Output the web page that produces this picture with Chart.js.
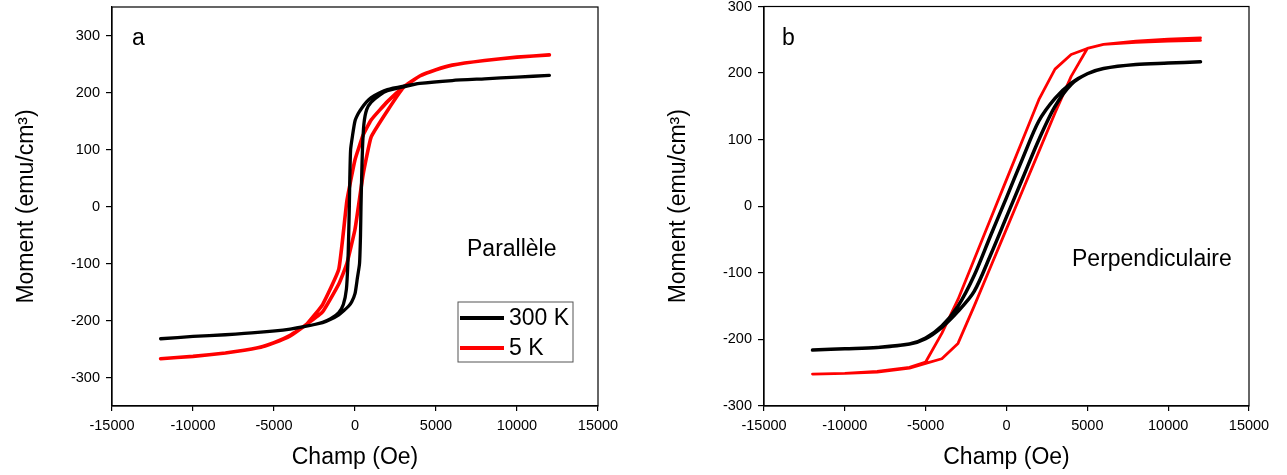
<!DOCTYPE html>
<html>
<head>
<meta charset="utf-8">
<title>Cycles d'hystérésis</title>
<script src="https://cdn.jsdelivr.net/npm/chart.js@4.4.1/dist/chart.umd.min.js"></script>
<style>
  body { margin: 0; background: #fff; }
  #wrap { position: relative; width: 1287px; height: 475px; }
  canvas { position: absolute; top: 0; }
  #chartA { left: 0; }
  #chartB { left: 640px; }
</style>
</head>
<body>
<div id="wrap">
  <canvas id="chartA" width="640" height="475"></canvas>
  <canvas id="chartB" width="647" height="475"></canvas>
</div>
<script>
// loops: +12 kOe down to -12 kOe, then back up to +12 kOe
const fieldA300 = [12000, 10000, 8000, 6000, 4000, 3000, 2000, 1500, 1000, 700, 400, 200, 0, -150, -270, -320, -350, -390, -440, -530, -720, -1000, -1500, -2000, -3000, -4000, -6000, -8000, -10000, -12000,
  -10000, -8000, -6000, -4000, -3000, -2000, -1500, -1000, -700, -400, -200, 0, 150, 280, 340, 370, 410, 460, 550, 720, 1000, 1500, 2000, 3000, 4000, 6000, 8000, 10000, 12000];
const momentA300 = [230, 227, 224, 221, 216, 211, 205, 199, 191, 183, 172, 163, 150, 125, 100, 50, 0, -50, -100, -145, -172, -186, -197, -203, -210, -215, -221, -225, -228, -232,
  -228, -225, -221, -215, -210, -204, -198, -190, -183, -175, -167, -153, -125, -100, -50, 0, 50, 100, 145, 170, 183, 195, 203, 210, 216, 221, 224, 227, 230];

const fieldA5 = [12000, 10000, 8000, 6000, 5000, 4000, 3000, 2000, 1000, 500, 0, -500, -1000, -2000, -3000, -4000, -5000, -6000, -8000, -10000, -12000,
  -10000, -8000, -6000, -5000, -4000, -3000, -2000, -1000, -500, 0, 500, 1000, 2000, 3000, 4000, 5000, 6000, 8000, 10000, 12000];
const momentA5 = [266, 262, 256, 248, 240, 229, 210, 184, 152, 125, 82, 10, -110, -172, -207, -226, -239, -248, -257, -263, -267,
  -263, -257, -248, -239, -227, -207, -185, -136, -100, -40, 56, 122, 168, 209, 229, 240, 248, 256, 262, 266];

const fieldB = [12000, 10000, 8000, 6000, 5000, 4000, 3000, 2000, 1000, 0, -1000, -2000, -3000, -4000, -5000, -6000, -8000, -10000, -12000,
  -10000, -8000, -6000, -5000, -4000, -3000, -2000, -1000, 0, 1000, 2000, 3000, 4000, 5000, 6000, 8000, 10000, 12000];
const momentB300 = [217, 215, 213, 207, 199, 185, 162, 128, 72, 13, -45, -104, -150, -180, -198, -207, -212, -214, -216,
  -214, -212, -207, -199, -182, -158, -128, -74, -16, 42, 100, 150, 183, 199, 207, 213, 215, 217];
const momentB5 = [249, 248, 246, 243, 237, 228, 206, 160, 100, 40, -20, -80, -140, -191, -234, -242, -248, -251, -252,
  -251, -249, -243, -236, -229, -206, -150, -92, -34, 24, 82, 140, 195, 237, 243, 248, 251, 253];

const seriesNames = ['300 K', '5 K'];
const xTicks = [-15000, -10000, -5000, 0, 5000, 10000, 15000];
const yTicksA = [-300, -200, -100, 0, 100, 200, 300];
const yTicksB = [-300, -200, -100, 0, 100, 200, 300];

const FONT = "'Liberation Sans', Arial, sans-serif";

function toPoints(h, m) {
  return h.map((x, i) => ({ x: x, y: m[i] }));
}

// box around the plot, panel letters, notes and the small legend
const framePlugin = {
  id: 'frame',
  afterDatasetsDraw(chart, args, opts) {
    const ctx = chart.ctx;
    const a = chart.chartArea;
    ctx.save();
    ctx.strokeStyle = '#000';
    ctx.lineWidth = 1.2;
    ctx.strokeRect(a.left, a.top, a.right - a.left, a.bottom - a.top);
    ctx.fillStyle = '#000';
    ctx.font = '23px ' + FONT;
    ctx.textBaseline = 'alphabetic';
    (opts.notes || []).forEach(n => ctx.fillText(n.text, a.left + n.dx, a.top + n.dy));
    if (opts.legend) {
      const lg = opts.legend;
      const bx = a.left + lg.dx, by = a.top + lg.dy;
      ctx.strokeStyle = '#555';
      ctx.lineWidth = 1;
      ctx.strokeRect(bx, by, lg.w, lg.h);
      ctx.textBaseline = 'middle';
      chart.data.datasets.forEach((ds, i) => {
        const y = by + 16 + 30 * i;
        ctx.strokeStyle = ds.borderColor;
        ctx.lineWidth = 4;
        ctx.beginPath();
        ctx.moveTo(bx + 2, y);
        ctx.lineTo(bx + 46, y);
        ctx.stroke();
        ctx.fillText(ds.label, bx + 51, y + 1);
      });
    }
    ctx.restore();
  }
};

function makeScales(yMin, yMax, yTicks, yWidth, titlePad) {
  const tickFont = { family: FONT, size: 14.5 };
  const titleFont = { family: FONT, size: 23 };
  return {
    x: {
      type: 'linear',
      min: -15000,
      max: 15000,
      afterBuildTicks: s => { s.ticks = xTicks.map(v => ({ value: v })); },
      afterFit: s => { s.height = 69; s.paddingLeft = 0; s.paddingRight = 0; },
      ticks: { color: '#000', font: tickFont, padding: 6, maxRotation: 0, autoSkip: false, callback: v => String(v) },
      grid: { drawOnChartArea: false, drawTicks: true, tickLength: 5, color: '#000', lineWidth: 1.2 },
      border: { display: true, color: '#000', width: 1.2 },
      title: { display: true, text: 'Champ (Oe)', color: '#000', font: titleFont, padding: { top: 0, bottom: 4 } }
    },
    y: {
      type: 'linear',
      min: yMin,
      max: yMax,
      afterBuildTicks: s => { s.ticks = yTicks.map(v => ({ value: v })); },
      afterFit: s => { s.width = yWidth; s.paddingTop = 0; s.paddingBottom = 0; },
      ticks: { color: '#000', font: tickFont, padding: 6, autoSkip: false, callback: v => String(v) },
      grid: { drawOnChartArea: false, drawTicks: true, tickLength: 6, color: '#000', lineWidth: 1.2 },
      border: { display: true, color: '#000', width: 1.2 },
      title: { display: true, text: 'Moment (emu/cm³)', color: '#000', font: titleFont, padding: { top: titlePad, bottom: 0 } }
    }
  };
}

const baseOptions = {
  responsive: false,
  animation: false,
  events: [],
  elements: { point: { radius: 0 } }
};

new Chart(document.getElementById('chartA'), {
  type: 'line',
  data: {
    datasets: [
      { label: seriesNames[0], data: toPoints(fieldA300, momentA300), borderColor: '#000000', borderWidth: 3.3, tension: 0.2, fill: false, borderJoinStyle: 'round', borderCapStyle: 'round' },
      { label: seriesNames[1], data: toPoints(fieldA5, momentA5), borderColor: '#ff0000', borderWidth: 3.6, tension: 0.12, fill: false, borderJoinStyle: 'round', borderCapStyle: 'round' }
    ]
  },
  options: Object.assign({}, baseOptions, {
    layout: { padding: { top: 7, right: 42, left: 0, bottom: 0 } },
    scales: makeScales(-350, 350, yTicksA, 112, 13),
    plugins: {
      legend: { display: false },
      tooltip: { enabled: false },
      frame: {
        notes: [{ text: 'a', dx: 20, dy: 38 }, { text: 'Parallèle', dx: 355, dy: 249 }],
        legend: { dx: 346, dy: 295, w: 115, h: 60 }
      }
    }
  }),
  plugins: [framePlugin]
});

new Chart(document.getElementById('chartB'), {
  type: 'line',
  data: {
    datasets: [
      { label: seriesNames[0], data: toPoints(fieldB, momentB300), borderColor: '#000000', borderWidth: 3.5, tension: 0.3, fill: false, borderJoinStyle: 'round', borderCapStyle: 'round' },
      { label: seriesNames[1], data: toPoints(fieldB, momentB5), borderColor: '#ff0000', borderWidth: 2.8, tension: 0, fill: false, borderJoinStyle: 'round', borderCapStyle: 'round' }
    ]
  },
  options: Object.assign({}, baseOptions, {
    layout: { padding: { top: 6.5, right: 38, left: 0, bottom: 0 } },
    scales: makeScales(-300, 300, yTicksB, 124, 25),
    plugins: {
      legend: { display: false },
      tooltip: { enabled: false },
      frame: {
        notes: [{ text: 'b', dx: 18, dy: 38.5 }, { text: 'Perpendiculaire', dx: 308, dy: 259 }]
      }
    }
  }),
  plugins: [framePlugin]
});
</script>
</body>
</html>
